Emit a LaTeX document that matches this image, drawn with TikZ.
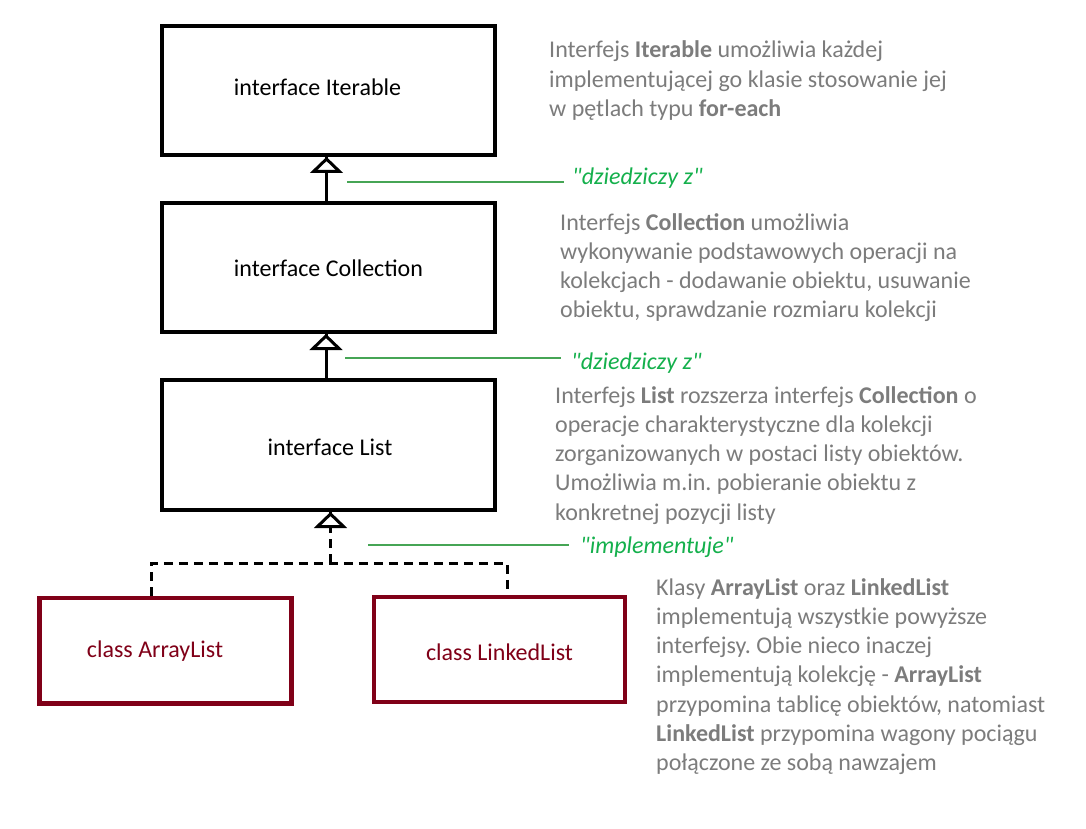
\documentclass[tikz,border=0pt]{standalone}
\usepackage{fontspec}
\setmainfont{Carlito}
\definecolor{descgrey}{RGB}{124,124,124}
\definecolor{lblgreen}{RGB}{20,176,76}
\definecolor{leadgreen}{RGB}{70,165,85}
\definecolor{clsred}{RGB}{128,0,24}
\newcommand{\descpar}[1]{\parbox[t]{520pt}{\frenchspacing\fontsize{24pt}{29.3pt}\selectfont #1}}
\newcommand{\dq}{\textquotedbl}
\tikzset{
  ibox/.style={draw=black, line width=4pt, rectangle, inner sep=0pt, text depth=0pt,
    font=\fontsize{24pt}{29pt}\selectfont, text=black},
  cbox/.style={draw=clsred, line width=4.5pt, rectangle, inner sep=0pt, text depth=0pt,
    font=\fontsize{24pt}{29pt}\selectfont, text=clsred},
  link/.style={line width=3pt},
  tri/.style={line width=3pt, line join=miter, fill=white, draw=black},
  impl/.style={line width=3pt, dash pattern=on 9pt off 6pt},
  lead/.style={draw=leadgreen, line width=1.2pt},
  lbl/.style={anchor=base west, inner sep=0pt, text=lblgreen,
    font=\fontsize{24pt}{29pt}\selectfont\itshape},
  desc/.style={anchor=base west, inner sep=0pt, text=descgrey}
}
\begin{document}
\begin{tikzpicture}[x=1pt, y=-1pt]
\useasboundingbox[fill=white] (0,0) rectangle (1086,829);

% boxes
\node[ibox, minimum width=333pt, minimum height=129pt, text height=11pt] (it) at (328.5,90.5) {\hspace*{-22pt}interface Iterable};
\node[ibox, minimum width=333pt, minimum height=129pt, text height=18.4pt] (col) at (328.5,267.5) {interface Collection};
\node[ibox, minimum width=333pt, minimum height=130pt, text height=20pt] (lst) at (328.5,445) {\hspace*{3pt}interface List};
\node[cbox, minimum width=252pt, minimum height=105.5pt, text height=12.5pt] (al) at (165.5,650.75) {\hspace*{-21pt}class ArrayList};
\node[cbox, minimum width=251pt, minimum height=105pt, text height=21pt] (ll) at (499.5,649.5) {class LinkedList};

% inheritance connectors (Collection -> Iterable, List -> Collection)
\draw[link] ([xshift=-2pt]col.north) -- ([xshift=-2pt]it.south);
\draw[tri] ([xshift=-2pt,yshift=-2pt]it.south) -- ++(-13,12.5) -- ++(26,0) -- cycle;
\draw[link] ([xshift=-2.5pt]lst.north) -- ([xshift=-2.5pt]col.south);
\draw[tri] ([xshift=-2.5pt,yshift=-2pt]col.south) -- ++(-13,12.5) -- ++(26,0) -- cycle;

% implementation connectors (ArrayList, LinkedList -> List)
\coordinate (j) at (330.5,563);
\draw[impl] ([xshift=-13.8pt]al.north) |- (j) -| ([xshift=7.5pt]ll.north);
\draw[impl] (j) -- (j |- lst.south);
\draw[tri] ([yshift=-2pt]j |- lst.south) -- ++(-13,12.5) -- ++(26,0) -- cycle;

% green labels and leader lines
\node[lbl] (l1) at (572,185) {\dq dziedziczy z\dq};
\coordinate (l1s) at (347,182);
\draw[lead] (l1s) -- (564,182);
\node[lbl] (l2) at (571,369) {\dq dziedziczy z\dq};
\coordinate (l2s) at (345,358);
\draw[lead] (l2s) -- (561,358);
\node[lbl] (l3) at (580,553) {\dq implementuje\dq};
\coordinate (l3s) at (368,545);
\draw[lead] (l3s) -- (569,545);

% descriptions
\node[desc] (d1) at (549,58) {\descpar{Interfejs \textbf{Iterable} umożliwia każdej\\implementującej go klasie stosowanie jej\\w pętlach typu \textbf{for-each}}};
\node[desc] (d2) at (560,230) {\descpar{Interfejs \textbf{Collection} umożliwia\\wykonywanie podstawowych operacji na\\kolekcjach - dodawanie obiektu, usuwanie\\obiektu, sprawdzanie rozmiaru kolekcji}};
\node[desc] (d3) at (555,403) {\descpar{Interfejs \textbf{List} rozszerza interfejs \textbf{Collection} o\\operacje charakterystyczne dla kolekcji\\zorganizowanych w postaci listy obiektów.\\Umożliwia m.in. pobieranie obiektu z\\konkretnej pozycji listy}};
\node[desc] (d4) at (656,595) {\descpar{Klasy \textbf{ArrayList} oraz \textbf{LinkedList}\\implementują wszystkie powyższe\\interfejsy. Obie nieco inaczej\\implementują kolekcję - \textbf{ArrayList}\\przypomina tablicę obiektów, natomiast\\\textbf{LinkedList} przypomina wagony pociągu\\połączone ze sobą nawzajem}};
\end{tikzpicture}
\end{document}
